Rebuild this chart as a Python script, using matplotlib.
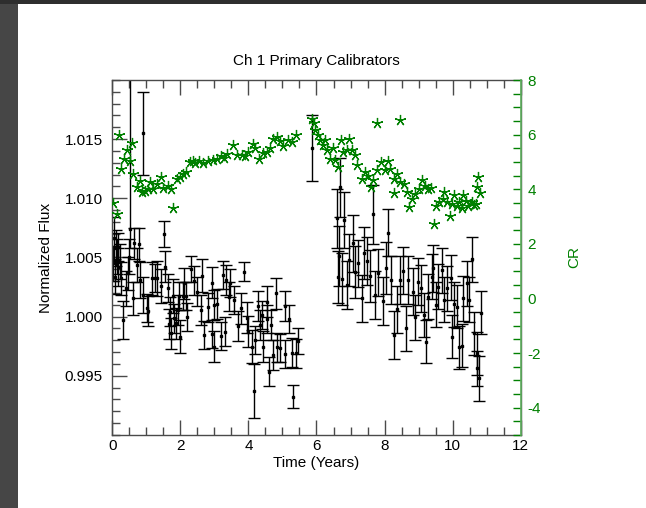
import matplotlib
matplotlib.use('Agg')
import matplotlib.pyplot as plt
from matplotlib.ticker import MultipleLocator, FormatStrFormatter
from matplotlib.patches import Rectangle

plt.rcParams['font.family'] = ['Liberation Sans', 'DejaVu Sans']
plt.rcParams['axes.unicode_minus'] = False

# ---- Normalized flux (black, with error bars) ----
time_flux = [0.03, 0.06, 0.08, 0.10, 0.13, 0.16, 0.18, 0.23, 0.25, 0.31, 0.40, 0.47, 0.49,
             0.62, 0.65, 0.72, 0.78, 0.81, 0.91, 0.91, 1.01, 1.06, 1.16, 1.25, 1.30, 1.42,
             1.52, 1.55, 1.63, 1.66, 1.70, 1.73, 1.79, 1.80, 1.86, 1.92, 1.97, 1.99, 2.07,
             2.12, 2.17, 2.20, 2.30, 2.41, 2.48, 2.60, 2.63, 2.69, 2.80, 2.92, 2.92, 2.99,
             3.00, 3.09, 3.19, 3.24, 3.31, 3.34, 3.44, 3.46, 3.58, 3.70, 3.78, 3.88, 3.95,
             4.00, 4.10, 4.15, 4.20, 4.27, 4.33, 4.39, 4.44, 4.54, 4.54, 4.61, 4.66, 4.71,
             4.80, 4.83, 4.93, 5.06, 5.08, 5.18, 5.27, 5.32, 5.40, 5.47,
             5.86, 6.60, 6.62, 6.67, 6.69, 6.74, 6.82, 6.89, 6.96, 7.08, 7.13, 7.23, 7.33,
             7.41, 7.49, 7.57, 7.65, 7.72, 7.82, 7.95, 8.04, 8.11, 8.18, 8.29, 8.36, 8.45,
             8.55, 8.63, 8.70, 8.83, 8.90, 8.97, 9.07, 9.17, 9.22, 9.29, 9.39, 9.43, 9.51,
             9.58, 9.68, 9.75, 9.83, 9.94, 9.97, 10.04, 10.12, 10.20, 10.27, 10.31, 10.41,
             10.49, 10.58, 10.64, 10.71, 10.71, 10.78, 10.82]
flux = [1.00451, 1.00662, 1.00338, 1.00580, 1.00507, 1.00591, 1.00422, 1.00465, 1.00324, 0.99970,
        1.00240, 1.00367, 1.00507, 1.00155, 1.00620, 1.00437, 1.00612, 1.00310, 1.01549, 1.00183,
        1.00071, 1.00048, 1.00324, 1.00329, 1.00324, 1.00259, 1.00696, 1.00422, 1.00240, 0.99938,
        1.00042, 0.99859, 1.00175, 0.99986, 0.99944, 1.00056, 1.00175, 0.99831, 1.00177, 1.00282,
        1.00175, 0.99995, 1.00400, 1.00304, 1.00211, 1.00057, 1.00347, 0.99843, 1.00079, 1.00287,
        0.99851, 1.00099, 0.99746, 1.00107, 0.99837, 1.00352, 0.99873, 1.00310, 1.00169, 1.00282,
        1.00141, 0.99921, 1.00071, 1.00380, 0.99992, 0.99873, 0.99746, 0.99372, 0.99803, 1.00090,
        0.99930, 1.00014, 0.99746, 1.00127, 0.99978, 0.99535, 0.99930, 0.99676, 1.00197, 0.99741,
        0.99733, 1.00090, 0.99685, 0.99978, 0.99696, 0.99324, 0.99690, 0.99795,
        1.01423, 1.00831, 1.00338, 1.00513, 1.01093, 1.00316, 1.00817, 1.00268, 1.00479, 1.00620,
        1.00380, 1.00451, 1.00155, 1.00541, 1.00471, 1.00344, 1.00865, 1.00183, 1.00372, 1.00133,
        1.00409, 1.00710, 1.00310, 0.99845, 1.00062, 1.00310, 1.00389, 0.99902, 1.00310, 1.00211,
        0.99995, 1.00296, 1.00240, 1.00014, 0.99789, 1.00169, 1.00338, 1.00409, 1.00099, 1.00254,
        1.00394, 1.00141, 1.00240, 1.00330, 0.99831, 1.00105, 1.00085, 0.99741, 0.99755, 1.00155,
        1.00282, 1.00141, 1.00485, 0.99860, 0.99690, 0.99564, 0.99479, 1.00034]
flux_err = [0.0015, 0.0018, 0.0015, 0.0015, 0.0015, 0.0012, 0.0016, 0.0015, 0.0014, 0.0016,
            0.0015, 0.0014, 0.0015, 0.0014, 0.0013, 0.0014, 0.0014, 0.0015, 0.0035, 0.0015,
            0.0012, 0.0013, 0.0014, 0.0012, 0.0015, 0.0014, 0.0011, 0.0013, 0.0012, 0.0013,
            0.0012, 0.0013, 0.0014, 0.0012, 0.0013, 0.0013, 0.0012, 0.0014, 0.0012, 0.0013,
            0.0012, 0.0012, 0.0011, 0.0012, 0.0012, 0.0013, 0.0014, 0.0012, 0.0012, 0.0013,
            0.0012, 0.0013, 0.0013, 0.0013, 0.0012, 0.0012, 0.0012, 0.0013, 0.0012, 0.0012,
            0.0012, 0.0013, 0.0013, 0.0008, 0.0013, 0.0013, 0.0014, 0.0023, 0.0012, 0.0013,
            0.0013, 0.0012, 0.0013, 0.0013, 0.0012, 0.0012, 0.0013, 0.0013, 0.0013, 0.0012,
            0.0012, 0.0013, 0.0012, 0.0012, 0.0012, 0.0010, 0.0012, 0.0011,
            0.0028, 0.0025, 0.0022, 0.0025, 0.0025, 0.0022, 0.0024, 0.0020, 0.0022, 0.0024,
            0.0022, 0.0020, 0.0020, 0.0022, 0.0020, 0.0022, 0.0025, 0.0020, 0.0020, 0.0020,
            0.0022, 0.0020, 0.0020, 0.0020, 0.0020, 0.0020, 0.0020, 0.0019, 0.0020, 0.0020,
            0.0019, 0.0020, 0.0020, 0.0019, 0.0018, 0.0019, 0.0019, 0.0020, 0.0019, 0.0019,
            0.0019, 0.0019, 0.0019, 0.0019, 0.0018, 0.0019, 0.0018, 0.0018, 0.0018, 0.0019,
            0.0019, 0.0019, 0.0019, 0.0018, 0.0018, 0.0015, 0.0019, 0.0018]

# one outlier bar whose upper error runs off the top of the plot
outlier_time = [0.52]
outlier_flux = [1.0074]
outlier_err_lo = [0.0016]
outlier_err_hi = [0.0140]

# ---- CR (green stars, right axis) ----
time_cr = [0.03, 0.13, 0.20, 0.26, 0.34, 0.42, 0.52, 0.57, 0.62, 0.72, 0.80, 0.88, 0.96, 1.04,
           1.11, 1.20, 1.30, 1.42, 1.50, 1.65, 1.72, 1.77, 1.91, 1.99, 2.08, 2.17, 2.28, 2.36,
           2.43, 2.56, 2.67, 2.82, 2.95, 3.07, 3.19, 3.28, 3.36, 3.56, 3.67, 3.80, 3.90, 4.00,
           4.12, 4.19, 4.32, 4.44, 4.54, 4.62, 4.71, 4.83, 4.93, 5.03, 5.17, 5.27, 5.40,
           5.86, 5.92, 5.96, 6.03, 6.10, 6.18, 6.25, 6.31, 6.40, 6.48, 6.54, 6.64, 6.71, 6.79,
           6.89, 6.96, 7.03, 7.13, 7.20, 7.33, 7.43, 7.52, 7.59, 7.67, 7.77, 7.79, 7.89, 8.01,
           8.11, 8.16, 8.28, 8.28, 8.36, 8.44, 8.46, 8.57, 8.65, 8.73, 8.80, 8.90, 9.00, 9.09,
           9.19, 9.29, 9.37, 9.44, 9.51, 9.61, 9.71, 9.76, 9.83, 9.92, 9.97, 10.04, 10.12,
           10.20, 10.27, 10.31, 10.39, 10.46, 10.56, 10.63, 10.69, 10.73, 10.76, 10.79]
cr = [3.48, 3.11, 5.97, 4.75, 5.12, 5.42, 5.05, 5.69, 4.54, 4.10, 4.30, 3.89, 3.95, 4.00,
      4.25, 4.01, 4.19, 4.46, 4.05, 4.13, 4.01, 3.31, 4.38, 4.46, 4.55, 4.62, 4.99, 5.02,
      4.95, 5.05, 4.95, 5.03, 5.08, 5.12, 5.20, 5.15, 5.30, 5.61, 5.26, 5.24, 5.20, 5.36,
      5.64, 5.52, 5.12, 5.32, 5.36, 5.50, 5.85, 5.91, 5.75, 5.57, 5.79, 5.73, 5.97,
      6.59, 6.41, 6.18, 5.97, 5.79, 5.61, 5.79, 5.42, 5.12, 5.52, 5.08, 4.81, 5.82, 5.36,
      5.42, 5.85, 5.42, 5.24, 4.87, 4.38, 4.62, 4.50, 4.07, 4.32, 4.69, 6.43, 4.99, 4.69,
      5.05, 4.75, 4.38, 3.85, 4.56, 6.53, 4.25, 4.19, 3.89, 3.36, 3.64, 3.83, 4.01, 4.32,
      4.13, 4.01, 4.05, 2.72, 3.40, 3.52, 3.64, 3.89, 3.52, 3.03, 3.46, 3.80, 3.40,
      3.52, 3.33, 3.80, 3.58, 3.40, 3.52, 3.43, 3.46, 4.07, 4.46, 3.85]

GREEN = '#008000'
SPINE = '#4a4a4a'

fig = plt.figure(figsize=(6.46, 5.08), dpi=100)
fig.patches.append(Rectangle((0, 0), 18 / 646, 1, transform=fig.transFigure,
                             facecolor='#464646', edgecolor='none', zorder=-10))
fig.patches.append(Rectangle((0, 1 - 4 / 508), 1, 4 / 508, transform=fig.transFigure,
                             facecolor='#2e2e2e', edgecolor='none', zorder=-10))

ax = fig.add_axes([112.3 / 646, 1 - 435 / 508, 408.4 / 646, 355 / 508])
ax.errorbar(time_flux, flux, yerr=flux_err, fmt='s', ms=1.6, color='black',
            ecolor='black', elinewidth=1.0, capsize=4, capthick=1.0, linestyle='none')
ax.errorbar(outlier_time, outlier_flux, yerr=[outlier_err_lo, outlier_err_hi], fmt='s', ms=1.6,
            color='black', ecolor='black', elinewidth=1.0, capsize=4, capthick=1.0,
            linestyle='none')

ax.set_xlim(0, 12)
ax.set_ylim(0.990, 1.020)
ax.set_xticks([0, 2, 4, 6, 8, 10, 12])
ax.xaxis.set_minor_locator(MultipleLocator(0.5))
ax.set_yticks([0.995, 1.000, 1.005, 1.010, 1.015])
ax.yaxis.set_major_formatter(FormatStrFormatter('%.3f'))
ax.yaxis.set_minor_locator(MultipleLocator(0.001))
ax.tick_params(which='both', direction='in', top=True, right=False, colors=SPINE,
               labelcolor='black', labelsize=11)
ax.tick_params(which='major', length=10.5, width=1.0)
ax.tick_params(which='minor', length=5.5, width=1.0)
ax.tick_params(axis='y', which='major', pad=7)
ax.tick_params(axis='x', which='major', pad=3)
for s in ax.spines.values():
    s.set_color(SPINE)
    s.set_linewidth(1.0)

ax.set_xlabel('Time (Years)', fontsize=11, labelpad=2)
ax.set_ylabel('Normalized Flux', fontsize=11, labelpad=8)
ax.set_title('Ch 1 Primary Calibrators', fontsize=11, pad=11)

ax2 = ax.twinx()
ax2.plot(time_cr, cr, linestyle='none', marker=(5, 2, 0), ms=8,
         markeredgecolor=GREEN, markerfacecolor=GREEN, markeredgewidth=0.9)
ax2.set_ylim(-5, 8)
ax2.set_yticks([-4, -2, 0, 2, 4, 6, 8])
ax2.yaxis.set_minor_locator(MultipleLocator(0.5))
ax2.tick_params(which='both', direction='in', colors=GREEN, labelcolor=GREEN,
                labelsize=11, length=5.8, width=1.0)
ax2.tick_params(axis='y', which='major', pad=5)
ax2.spines['right'].set_color('#5fb05f')
ax2.spines['right'].set_linewidth(1.2)
for k in ('left', 'top', 'bottom'):
    ax2.spines[k].set_visible(False)
ax2.set_ylabel('CR', color=GREEN, fontsize=11, labelpad=19)

fig.savefig('out.png', dpi=100)
